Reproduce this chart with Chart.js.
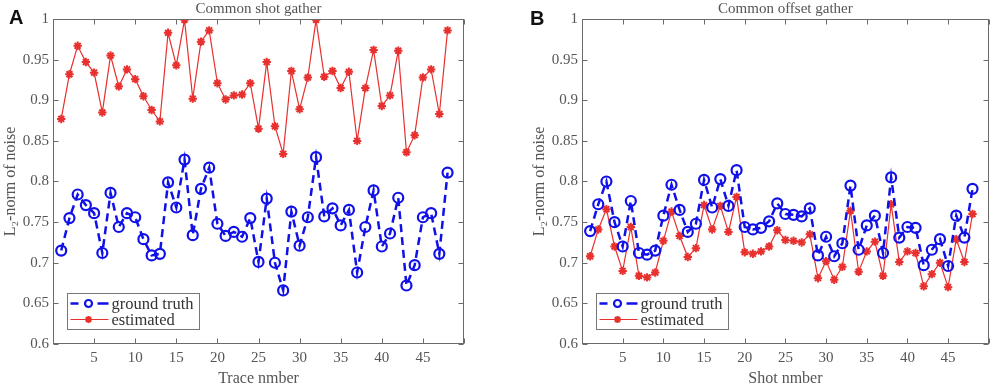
<!DOCTYPE html>
<html>
<head>
<meta charset="utf-8">
<title>L2-norm of noise</title>
<script src="https://cdn.jsdelivr.net/npm/chart.js@4.4.1/dist/chart.umd.min.js"></script>
<style>
    body { margin: 0; background: #fff; }
    #wrap { position: relative; width: 996px; height: 392px; overflow: hidden; }
    .painel { position: absolute; top: 0; width: 498px; height: 392px; }
    .letra { position: absolute; font: bold 20px "Liberation Sans", Arial, sans-serif; color: #111; }
</style>
</head>
<body>
<div id="wrap">
    <div class="painel" style="left:0"><canvas id="graficoA"></canvas></div>
    <div class="painel" style="left:498px"><canvas id="graficoB"></canvas></div>
    <div class="letra" style="left:9px;top:6px">A</div>
    <div class="letra" style="left:530px;top:7px">B</div>
</div>
<script>
// numero do traco / tiro (eixo x)
const tracos = [1, 2, 3, 4, 5, 6, 7, 8, 9, 10, 11, 12, 13, 14, 15, 16, 17, 18, 19, 20, 21, 22, 23, 24,
                25, 26, 27, 28, 29, 30, 31, 32, 33, 34, 35, 36, 37, 38, 39, 40, 41, 42, 43, 44, 45, 46, 47, 48];

// A - Common shot gather
const verdadeA = [0.715, 0.755, 0.784, 0.771, 0.761, 0.712, 0.786, 0.744, 0.761, 0.756, 0.729, 0.709,
                  0.711, 0.799, 0.768, 0.827, 0.734, 0.791, 0.817, 0.748, 0.733, 0.738, 0.732, 0.755,
                  0.701, 0.779, 0.700, 0.666, 0.763, 0.721, 0.756, 0.830, 0.757, 0.767, 0.746, 0.765,
                  0.688, 0.744, 0.789, 0.720, 0.736, 0.780, 0.672, 0.697, 0.756, 0.761, 0.711, 0.811];
const estimadoA = [0.877, 0.932, 0.967, 0.947, 0.934, 0.885, 0.955, 0.917, 0.938, 0.926, 0.905, 0.888,
                   0.874, 0.983, 0.943, 0.999, 0.902, 0.972, 0.986, 0.921, 0.901, 0.906, 0.907, 0.921,
                   0.865, 0.947, 0.868, 0.834, 0.936, 0.889, 0.928, 0.999, 0.929, 0.936, 0.915, 0.935,
                   0.850, 0.915, 0.962, 0.893, 0.906, 0.961, 0.836, 0.857, 0.928, 0.938, 0.883, 0.986];

// B - Common offset gather
const verdadeB = [0.739, 0.772, 0.800, 0.750, 0.720, 0.776, 0.712, 0.710, 0.715, 0.758, 0.796, 0.765,
                  0.738, 0.748, 0.802, 0.768, 0.803, 0.770, 0.814, 0.744, 0.741, 0.743, 0.751, 0.773,
                  0.760, 0.759, 0.757, 0.767, 0.709, 0.732, 0.708, 0.724, 0.795, 0.716, 0.746, 0.758,
                  0.712, 0.805, 0.731, 0.744, 0.743, 0.697, 0.716, 0.729, 0.696, 0.758, 0.731, 0.791];
const estimadoB = [0.708, 0.741, 0.766, 0.720, 0.690, 0.744, 0.684, 0.682, 0.688, 0.727, 0.763, 0.733,
                   0.707, 0.718, 0.771, 0.741, 0.770, 0.738, 0.781, 0.713, 0.711, 0.714, 0.720, 0.740,
                   0.728, 0.727, 0.725, 0.735, 0.681, 0.702, 0.679, 0.695, 0.764, 0.689, 0.714, 0.726,
                   0.684, 0.772, 0.701, 0.714, 0.712, 0.671, 0.686, 0.700, 0.670, 0.729, 0.701, 0.760];

// marcas dos eixos
const ticksX = [0, 5, 10, 15, 20, 25, 30, 35, 40, 45, 50];
const rotulosX = ['', '5', '10', '15', '20', '25', '30', '35', '40', '45', ''];
const ticksY = [0.6, 0.65, 0.7, 0.75, 0.8, 0.85, 0.9, 0.95, 1];
const rotulosY = ['0.6', '0.65', '0.7', '0.75', '0.8', '0.85', '0.9', '0.95', '1'];

const serif = '"Liberation Serif", "Times New Roman", serif';
Chart.defaults.font.family = serif;
Chart.defaults.color = '#555';

// moldura estilo matlab: caixa, marcas para dentro, titulo e legenda dentro do grafico
const molduraPlugin = {
    id: 'moldura',
    afterDraw(chart, args, opts) {
        const { ctx, chartArea: a, scales } = chart;
        const L = Math.round(a.left) + 0.5, R = Math.round(a.right) - 0.5;
        const T = Math.round(a.top) + 0.5, B = Math.round(a.bottom) - 0.5;
        ctx.save();
        ctx.strokeStyle = '#6a6a6a';
        ctx.lineWidth = 1;
        ctx.setLineDash([]);
        ctx.strokeRect(L, T, R - L, B - T);
        ctx.beginPath();
        ticksX.forEach(v => {
            const px = Math.round(scales.x.getPixelForValue(v)) + 0.5;
            ctx.moveTo(px, B); ctx.lineTo(px, B - 5);
            ctx.moveTo(px, T); ctx.lineTo(px, T + 5);
        });
        ticksY.forEach(v => {
            const py = Math.round(scales.y.getPixelForValue(v)) + 0.5;
            ctx.moveTo(L, py); ctx.lineTo(L + 5, py);
            ctx.moveTo(R, py); ctx.lineTo(R - 5, py);
        });
        ctx.stroke();

        // titulo
        ctx.fillStyle = '#555';
        ctx.font = '15px ' + serif;
        ctx.textAlign = 'center';
        ctx.textBaseline = 'middle';
        ctx.fillText(opts.titulo, (a.left + a.right) / 2, 9);

        // legenda
        const bx = L + 14, by = B - 50, bw = 132, bh = 36;
        ctx.fillStyle = '#fff';
        ctx.fillRect(bx, by, bw, bh);
        ctx.strokeStyle = '#777';
        ctx.strokeRect(bx, by, bw, bh);
        chart.data.datasets.forEach((ds, i) => {
            const y = by + 10 + i * 16;
            ctx.strokeStyle = ds.borderColor;
            ctx.lineWidth = ds.borderWidth;
            ctx.beginPath();
            if (ds.borderDash) {
                ctx.moveTo(bx + 3, y); ctx.lineTo(bx + 11, y);
                ctx.moveTo(bx + 30, y); ctx.lineTo(bx + 41, y);
            } else {
                ctx.moveTo(bx + 3, y); ctx.lineTo(bx + 41, y);
            }
            ctx.stroke();
            ctx.lineWidth = ds.pointBorderWidth;
            ctx.fillStyle = ds.pointBackgroundColor;
            Chart.helpers.drawPoint(ctx, {
                pointStyle: ds.pointStyle, rotation: 0,
                radius: 3.5, borderWidth: ds.pointBorderWidth
            }, bx + 21, y);
            ctx.fillStyle = '#333';
            ctx.font = '16.5px ' + serif;
            ctx.textAlign = 'left';
            ctx.fillText(ds.label, bx + 44, y + 1);
        });
        ctx.restore();
    }
};

function criarGrafico(idCanvas, titulo, tituloX, verdade, estimado, padEsq, padDir) {
    if (window[idCanvas] && typeof window[idCanvas].destroy === 'function') {
        window[idCanvas].destroy();
    }
    const ctx = document.getElementById(idCanvas).getContext('2d');
    window[idCanvas] = new Chart(ctx, {
        type: 'line',
        data: {
            datasets: [{
                label: 'ground truth',
                data: verdade.map((v, i) => ({ x: tracos[i], y: v })),
                borderColor: '#1010e8',
                borderWidth: 2.5,
                borderDash: [8, 5],
                pointStyle: 'circle',
                pointRadius: 5,
                pointBorderWidth: 2.2,
                pointBorderColor: '#1010e8',
                pointBackgroundColor: 'rgba(0,0,0,0)',
                tension: 0,
                fill: false
            }, {
                label: 'estimated',
                data: estimado.map((v, i) => ({ x: tracos[i], y: v })),
                borderColor: '#e8302e',
                borderWidth: 1.2,
                pointStyle: 'star',
                pointRadius: 4.2,
                pointBorderWidth: 2,
                pointBorderColor: '#e8302e',
                pointBackgroundColor: 'rgba(0,0,0,0)',
                tension: 0,
                fill: false
            }]
        },
        options: {
            responsive: true,
            maintainAspectRatio: false,
            animation: false,
            layout: { padding: { top: 19, left: padEsq, right: padDir, bottom: 0 } },
            plugins: {
                legend: { display: false },
                tooltip: { enabled: false },
                moldura: { titulo: titulo }
            },
            scales: {
                x: {
                    type: 'linear',
                    min: 0,
                    max: 50,
                    afterBuildTicks: s => { s.ticks = ticksX.map(v => ({ value: v })); },
                    afterFit: s => { s.height = 48; },
                    ticks: {
                        callback: (v, i) => rotulosX[i],
                        autoSkip: false,
                        maxRotation: 0,
                        padding: 5,
                        font: { size: 15 }
                    },
                    grid: { display: false, drawTicks: false },
                    border: { display: false },
                    title: {
                        display: true,
                        text: tituloX,
                        font: { size: 16 },
                        padding: { top: 0, bottom: 4 }
                    }
                },
                y: {
                    min: 0.6,
                    max: 1,
                    afterBuildTicks: s => { s.ticks = ticksY.map(v => ({ value: v })); },
                    afterFit: s => { s.width = 53; },
                    ticks: {
                        callback: (v, i) => rotulosY[i],
                        padding: 4,
                        font: { size: 15 }
                    },
                    grid: { display: false, drawTicks: false },
                    border: { display: false },
                    title: {
                        display: true,
                        text: 'L\u2082-norm of noise',
                        font: { size: 16 },
                        padding: { top: 1, bottom: 0 }
                    }
                }
            }
        },
        plugins: [molduraPlugin]
    });
}

document.addEventListener("DOMContentLoaded", () => {
    criarGrafico('graficoA', 'Common shot gather', 'Trace nmber', verdadeA, estimadoA, 0, 34);
    criarGrafico('graficoB', 'Common offset gather', 'Shot nmber', verdadeB, estimadoB, 31, 3);
});
</script>
</body>
</html>
